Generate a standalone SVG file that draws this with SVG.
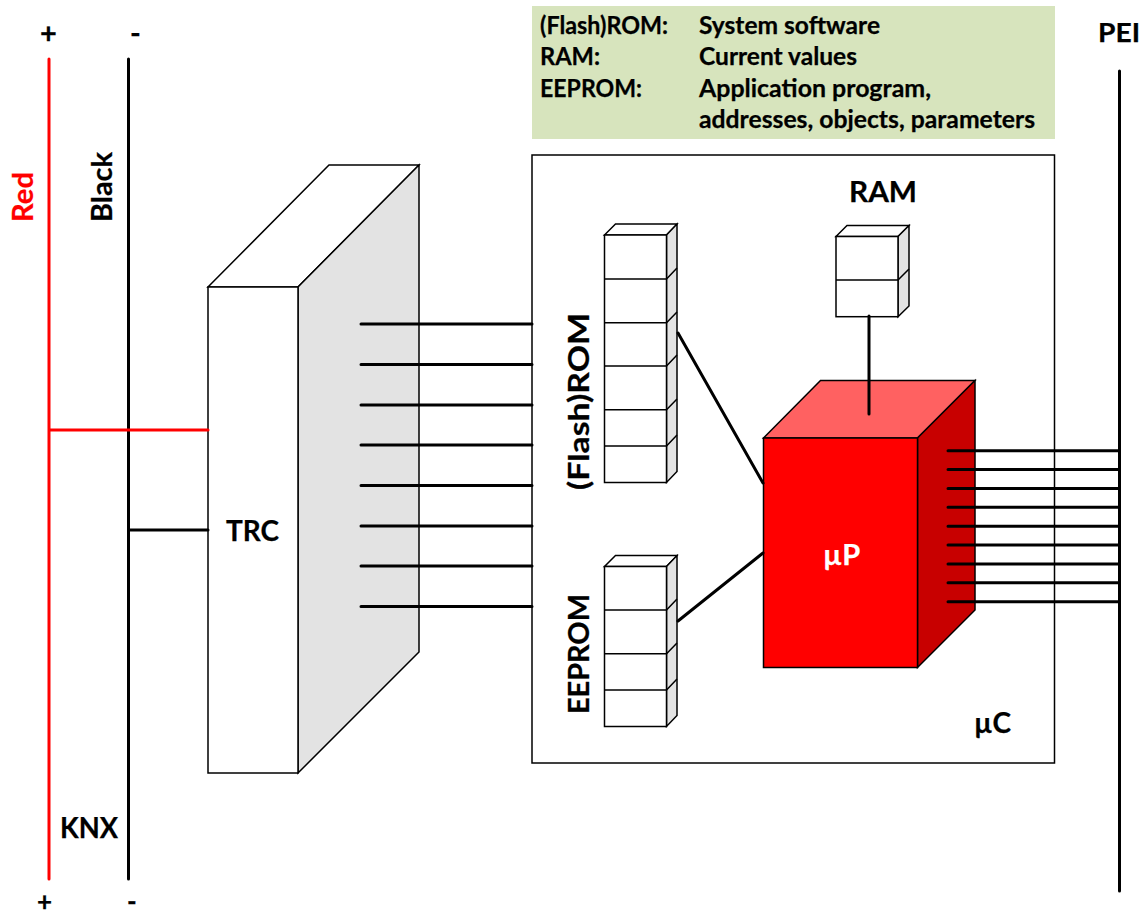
<svg xmlns="http://www.w3.org/2000/svg" width="1143" height="917" viewBox="0 0 1143 917">
<style>
text{font-family:Lato,Carlito,"Open Sans",sans-serif;font-weight:700;font-size:24px;fill:#000;stroke:#000;stroke-width:.25}
.b{font-size:29px}
.f{fill:#fff;stroke:#000;stroke-width:1.5;stroke-linejoin:miter}
.s{fill:#e3e3e3;stroke:#000;stroke-width:1.5}
.w{stroke:#000;stroke-width:3;fill:none;stroke-linecap:round}
.t{stroke:#000;stroke-width:1.5;fill:none}
</style>
<rect width="1143" height="917" fill="#fff"/>
<g id="memo">
<rect x="532" y="6" width="523" height="133" fill="#d7e4bd"/>
<text x="540" y="34" textLength="128" lengthAdjust="spacingAndGlyphs">(Flash)ROM:</text><text x="699" y="34" textLength="181" lengthAdjust="spacingAndGlyphs">System software</text>
<text x="540" y="65" textLength="60" lengthAdjust="spacingAndGlyphs">RAM:</text><text x="699" y="65" textLength="158" lengthAdjust="spacingAndGlyphs">Current values</text>
<text x="540" y="97" textLength="102" lengthAdjust="spacingAndGlyphs">EEPROM:</text><text x="699" y="97" textLength="232" lengthAdjust="spacingAndGlyphs">Application program,</text>
<text x="699" y="128" textLength="336" lengthAdjust="spacingAndGlyphs">addresses, objects, parameters</text>
</g>
<g id="uC">
<rect x="532" y="155" width="522.500" height="608" fill="#fff" stroke="#000" stroke-width="1.5"/>
<text class="b" x="974" y="733" textLength="37" lengthAdjust="spacingAndGlyphs">µC</text>
</g>
<g id="TRC">
<polygon class="f" points="208,287 298,287 419,165 329,165"/>
<polygon class="s" points="298,287 419,165 419,652 298,773"/>
<rect class="f" x="208" y="287" width="90" height="486"/>
<text class="b" x="226" y="541" textLength="53" lengthAdjust="spacingAndGlyphs">TRC</text>
</g>
<g id="flashrom">
<polygon class="f" points="604.500,235 666.500,235 677,224 615.500,224"/>
<polygon class="s" points="666.500,235 677,224 677,471.500 666.500,482.500"/>
<rect class="f" x="604.500" y="235" width="62" height="247.500"/>
<path class="t" d="M604.500 279H666.500L677 268M604.500 322.700H666.500L677 312M604.500 366H666.500L677 355M604.500 409.700H666.500L677 399M604.500 446H666.500L677 435"/>
<text class="b" transform="translate(589 490) rotate(-90)" textLength="177" lengthAdjust="spacingAndGlyphs">(Flash)ROM</text>
</g>
<g id="eeprom">
<polygon class="f" points="604.500,566.500 666.500,566.500 677,555.500 615.500,555.500"/>
<polygon class="s" points="666.500,566.500 677,555.500 677,715.500 666.500,726.500"/>
<rect class="f" x="604.500" y="566.500" width="62" height="160"/>
<path class="t" d="M604.500 610H666.500L677 599M604.500 653.700H666.500L677 643M604.500 690H666.500L677 679"/>
<text class="b" transform="translate(589 714) rotate(-90)" textLength="120" lengthAdjust="spacingAndGlyphs">EEPROM</text>
</g>
<g id="ram">
<polygon class="f" points="836,236.500 898,236.500 909,225.500 847,225.500"/>
<polygon class="s" points="898,236.500 909,225.500 909,306 898,316.700"/>
<rect class="f" x="836" y="236.500" width="62" height="80.200"/>
<path class="t" d="M836 280H898L909 269"/>
<text class="b" x="849" y="202" textLength="68" lengthAdjust="spacingAndGlyphs">RAM</text>
</g>
<g id="uP">
<polygon points="763.500,438 820.500,380.500 975,380.500 917.500,438" fill="#ff6161" stroke="#000" stroke-width="1.500"/>
<polygon points="917.500,438 975,380.500 975,610 917.500,667.500" fill="#c80000" stroke="#000" stroke-width="1.500"/>
<rect x="763.500" y="438" width="154" height="229.500" fill="#f00" stroke="#000" stroke-width="1.500"/>
<text class="b" x="823" y="565" style="fill:#fff;stroke:#fff">µP</text>
</g>
<g id="labels">
<text class="b" x="40" y="43">+</text><text class="b" x="130" y="43">-</text>
<text x="37" y="911" style="font-size:26px">+</text><text x="127" y="911" style="font-size:26px">-</text>
<text class="b" x="60" y="838" textLength="58" lengthAdjust="spacingAndGlyphs">KNX</text>
<text x="1098" y="42" textLength="42" lengthAdjust="spacingAndGlyphs" style="font-size:26px">PEI</text>
<text class="b" transform="translate(33 222) rotate(-90)" textLength="50" lengthAdjust="spacingAndGlyphs" style="fill:#f00;stroke:#f00">Red</text>
<text class="b" transform="translate(112 222) rotate(-90)" textLength="70" lengthAdjust="spacingAndGlyphs">Black</text>
</g>
<g id="connectors">
<path class="w" d="M128.500 59V879M1119.500 71V891"/>
<path class="w" d="M130 530H208"/>
<path d="M49 59V879M49 430H208" stroke="#f00" stroke-width="3" fill="none" stroke-linecap="round"/>
<path class="w" d="M361 324H532M361 364.500H532M361 405H532M361 445H532M361 485.500H532M361 526H532M361 566H532M361 606.500H532"/>
<path class="w" d="M678 333L763 483M678 621L763 553M869 316V414"/>
<path class="w" d="M948 450.700H1118M948 469.500H1118M948 488.500H1118M948 507.300H1118M948 526.200H1118M948 545H1118M948 564H1118M948 582.700H1118M948 601.700H1118"/>
</g>
</svg>
